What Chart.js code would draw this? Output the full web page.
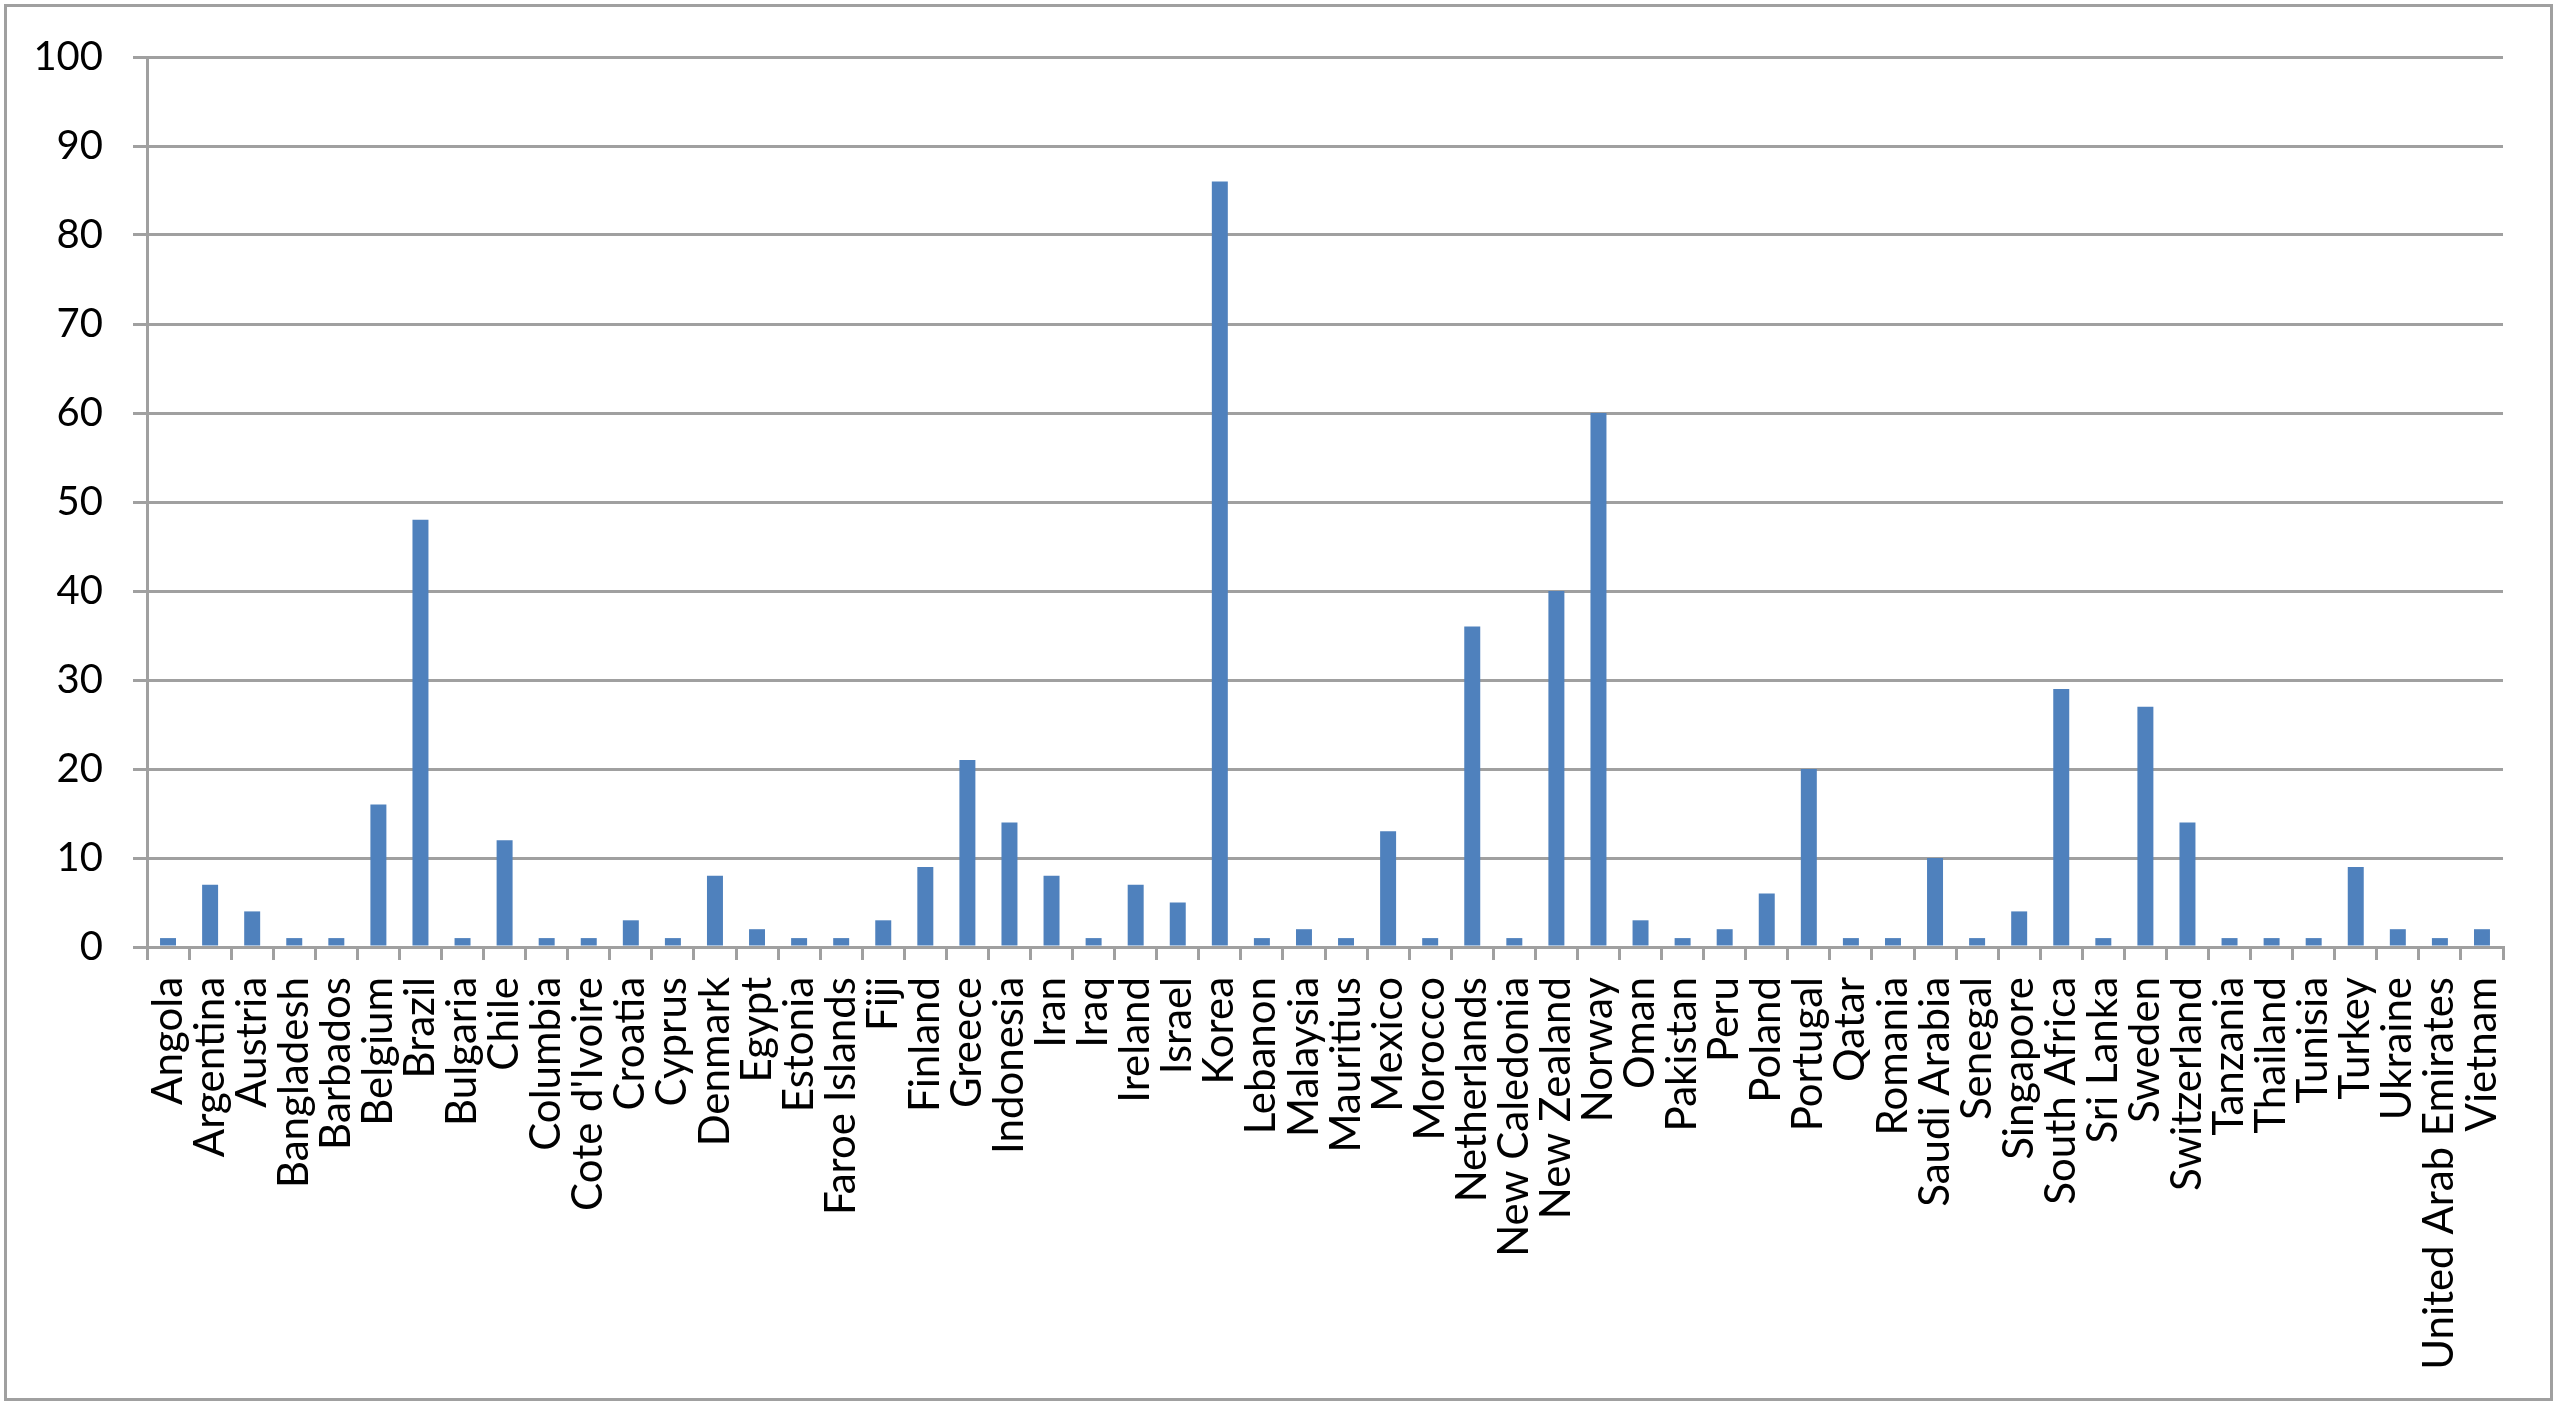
<!DOCTYPE html>
<html>
<head>
<meta charset="utf-8">
<script src="https://cdn.jsdelivr.net/npm/chart.js@4.4.1/dist/chart.umd.min.js"></script>
<style>
  html, body { margin: 0; padding: 0; background: #fff; }
  #wrap { position: relative; width: 2560px; height: 1408px; }
  #frame { position: absolute; left: 4px; top: 4px; width: 2549px; height: 1397px; border: 3px solid #a0a0a0; box-sizing: border-box; pointer-events: none; }
  canvas { position: absolute; left: 0; top: 0; }
</style>
</head>
<body>
<div id="wrap">
  <canvas id="chart" width="2560" height="1408"></canvas>
  <div id="frame"></div>
</div>
<script>
const countries = [
  'Angola', 'Argentina', 'Austria', 'Bangladesh', 'Barbados', 'Belgium', 'Brazil', 'Bulgaria',
  'Chile', 'Columbia', "Cote d'Ivoire", 'Croatia', 'Cyprus', 'Denmark', 'Egypt', 'Estonia',
  'Faroe Islands', 'Fiji', 'Finland', 'Greece', 'Indonesia', 'Iran', 'Iraq', 'Ireland',
  'Israel', 'Korea', 'Lebanon', 'Malaysia', 'Mauritius', 'Mexico', 'Morocco', 'Netherlands',
  'New Caledonia', 'New Zealand', 'Norway', 'Oman', 'Pakistan', 'Peru', 'Poland', 'Portugal',
  'Qatar', 'Romania', 'Saudi Arabia', 'Senegal', 'Singapore', 'South Africa', 'Sri Lanka', 'Sweden',
  'Switzerland', 'Tanzania', 'Thailand', 'Tunisia', 'Turkey', 'Ukraine', 'United Arab Emirates', 'Vietnam'
];
const counts = [
  1, 7, 4, 1, 1, 16, 48, 1,
  12, 1, 1, 3, 1, 8, 2, 1,
  1, 3, 9, 21, 14, 8, 1, 7,
  5, 86, 1, 2, 1, 13, 1, 36,
  1, 40, 60, 3, 1, 2, 6, 20,
  1, 1, 10, 1, 4, 29, 1, 27,
  14, 1, 1, 1, 9, 2, 1, 2
];
const yMin = 0;
const yMax = 100;
const yStep = 10;

const gridGray = '#a0a0a0';
const family = 'Lato, "Open Sans", sans-serif';

const ctx = document.getElementById('chart').getContext('2d');
new Chart(ctx, {
  type: 'bar',
  data: {
    labels: countries,
    datasets: [
      {
        data: counts,
        backgroundColor: '#4f81bd',
        borderWidth: 0,
        barPercentage: 0.38,
        categoryPercentage: 1,
      },
    ],
  },
  options: {
    responsive: false,
    animation: false,
    layout: { padding: { top: 57, right: 57, bottom: 0, left: 0 } },
    scales: {
      x: {
        offset: true,
        afterFit: (scale) => { scale.height = 461; },
        grid: {
          offset: true,
          drawOnChartArea: false,
          drawTicks: true,
          tickLength: 13,
          color: gridGray,
          lineWidth: 3,
        },
        border: { display: true, color: gridGray, width: 3 },
        ticks: {
          autoSkip: false,
          maxRotation: 90,
          minRotation: 90,
          padding: 17,
          color: '#000',
          font: { family: family, size: 42 },
        },
      },
      y: {
        min: yMin,
        max: yMax,
        afterFit: (scale) => { scale.width = 147; },
        grid: {
          color: gridGray,
          lineWidth: 3,
          drawTicks: true,
          tickLength: 14,
        },
        border: { display: true, color: gridGray, width: 3 },
        ticks: {
          stepSize: yStep,
          padding: 30,
          color: '#000',
          font: { family: family, size: 40 },
        },
      },
    },
    plugins: {
      legend: { display: false },
      tooltip: { enabled: false },
    },
  },
});
</script>
</body>
</html>
